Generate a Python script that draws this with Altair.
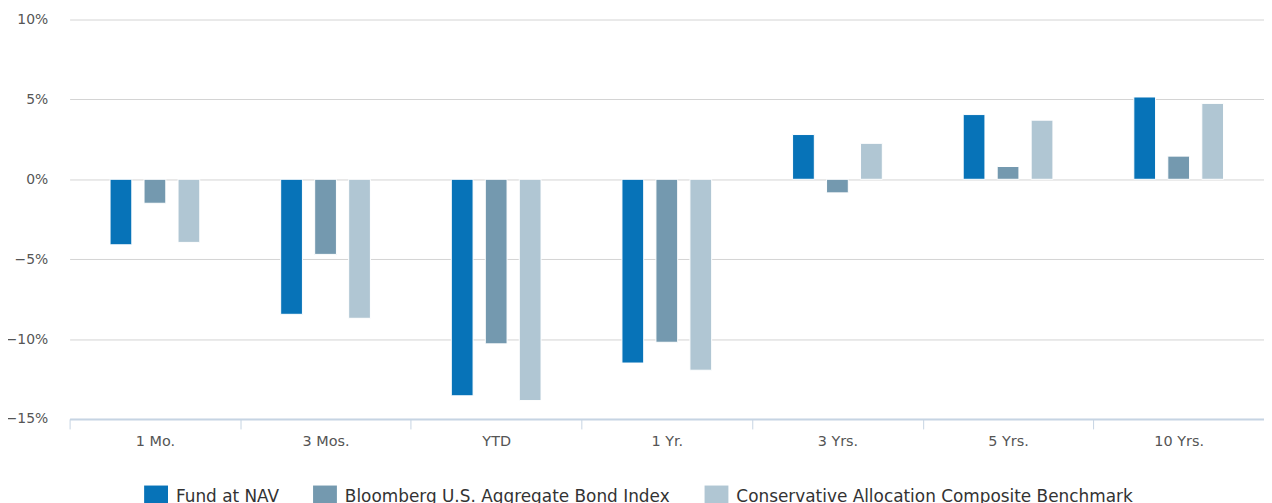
import altair as alt
import pandas as pd

periods = ["1 Mo.", "3 Mos.", "YTD", "1 Yr.", "3 Yrs.", "5 Yrs.", "10 Yrs."]
series = ["Fund at NAV", "Bloomberg U.S. Aggregate Bond Index",
          "Conservative Allocation Composite Benchmark"]
fund = [-4.10, -8.45, -13.55, -11.50, 2.80, 4.05, 5.15]
bloomberg = [-1.50, -4.70, -10.30, -10.20, -0.85, 0.80, 1.45]
conservative = [-3.95, -8.70, -13.85, -11.95, 2.25, 3.70, 4.75]
colors = ["#0773b8", "#7499af", "#b0c6d3"]
y_ticks = [-15, -10, -5, 0, 5, 10]

rows = []
for vals, s in zip([fund, bloomberg, conservative], series):
    for p, v in zip(periods, vals):
        rows.append({"period": p, "series": s, "value": v})
df = pd.DataFrame(rows)

FONT = "DejaVu Sans"
offset_domain = ["_pad_left"] + series + ["_pad_right"]

chart = alt.Chart(df).mark_bar(stroke="white", strokeWidth=1).encode(
    x=alt.X("period:N", sort=periods, title=None,
            scale=alt.Scale(paddingInner=0, paddingOuter=0),
            axis=alt.Axis(labelAngle=0, tickBand="extent", ticks=True,
                          tickSize=10, tickColor="#c6d4e3", domainColor="#c6d4e3",
                          domainWidth=2, labelFontSize=14.5, labelColor="#555555",
                          labelFont=FONT, labelPadding=6, grid=False)),
    xOffset=alt.XOffset("series:N",
                        scale=alt.Scale(domain=offset_domain,
                                        paddingInner=0.36, paddingOuter=0.19)),
    y=alt.Y("value:Q", title=None,
            scale=alt.Scale(domain=[-15, 10], nice=False, zero=False),
            axis=alt.Axis(values=y_ticks,
                          labelExpr="replace(datum.value, '-', '\u2212') + '%'",
                          domain=False, ticks=False, grid=True,
                          gridColor="#d4d4d4", gridWidth=1,
                          labelFontSize=14, labelColor="#555555", labelFont=FONT,
                          labelPadding=22)),
    color=alt.Color("series:N", sort=series,
                    scale=alt.Scale(domain=series, range=colors),
                    legend=alt.Legend(title=None, orient="none", direction="horizontal",
                                      legendX=75, legendY=469,
                                      symbolType="square", symbolSize=576,
                                      symbolStrokeWidth=0, symbolOpacity=1,
                                      labelFontSize=17, labelFont=FONT,
                                      labelColor="#333333", columnPadding=34,
                                      labelOffset=8, labelLimit=1000)),
).properties(
    width=1202, height=402,
    autosize=alt.AutoSizeParams(type="none"),
    padding={"left": 62, "top": 10, "right": 0, "bottom": 83},
).configure_view(stroke=None)

chart.save("out.html", embed_options={"renderer": "svg", "actions": False})
